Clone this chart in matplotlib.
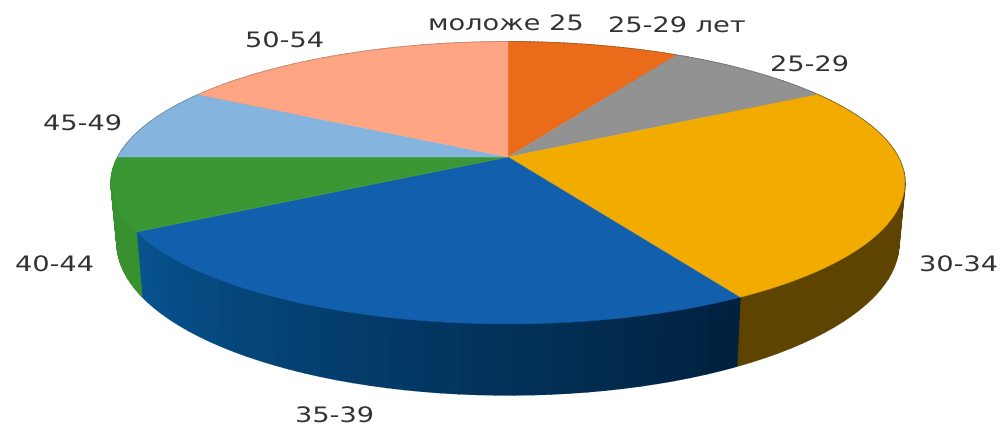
import numpy as np
import matplotlib as mpl
mpl.use('Agg')
import matplotlib.pyplot as plt
from matplotlib.colors import to_rgb
from matplotlib.patches import Polygon
from matplotlib.patheffects import AbstractPathEffect
from matplotlib.transforms import Affine2D

mpl.rcParams['font.family'] = ['DejaVu Sans']

# the picture has 8 labels but only 7 slices
labels = ['моложе 25', '25-29 лет', '25-29', '30-34', '35-39', '40-44', '45-49', '50-54']

# slices clockwise from 12 o'clock
slice_values = [1, 1, 3, 3, 1, 1, 2]
colors = ['#ea6c1a', '#929292', '#f2ab00', '#1260ad', '#3a9834', '#85b5de', '#ffa584']
side_start = ['#a04a10', '#666666', '#5f4300', '#00213f', '#37912f', '#5a7d99', '#b27359']
side_end = ['#a04a10', '#666666', '#5f4300', '#07538f', '#37912f', '#5a7d99', '#b27359']

label_x = [428, 608, 770, 919, 295, 15, 43, 245]
label_y = [31, 33, 72, 272, 423, 272, 131, 48]

cx, top_y, bot_y = 508, 158, 216
ax_r, b_top, b_bot, persp = 390, 136.2, 146.7, 0.184
bot_scale = 0.985


class Stretch(AbstractPathEffect):
    # text in the reference is wider than any installed font
    def __init__(self, sx):
        super().__init__()
        self.sx = sx

    def draw_path(self, renderer, gc, tpath, affine, rgbFace=None):
        renderer.draw_path(gc, tpath, Affine2D().scale(self.sx, 1) + affine, rgbFace)


def project(theta, bottom=False):
    u, v = np.sin(theta), np.cos(theta)
    d = 1 + persp * v
    if bottom:
        return cx + bot_scale * ax_r * u / d, bot_y - b_bot * v / d
    return cx + ax_r * u / d, top_y - b_top * v / d


fig = plt.figure(figsize=(10.04, 4.27), dpi=100)
ax = fig.add_axes([0, 0, 1, 1])
ax.set_xlim(0, 1004)
ax.set_ylim(427, 0)
ax.axis('off')

edges = np.cumsum([0] + slice_values) / sum(slice_values) * 2 * np.pi

# rim first, top covers whatever is behind it
for i in range(len(slice_values)):
    steps = np.linspace(edges[i], edges[i + 1], 41)
    c0, c1 = np.array(to_rgb(side_start[i])), np.array(to_rgb(side_end[i]))
    for j in range(len(steps) - 1):
        t = np.linspace(steps[j], steps[j + 1], 4)
        x1, y1 = project(t)
        x2, y2 = project(t, bottom=True)
        pts = np.column_stack([np.r_[x1, x2[::-1]], np.r_[y1, y2[::-1]]])
        col = c0 + (c1 - c0) * j / (len(steps) - 2)
        ax.add_patch(Polygon(pts, closed=True, fc=col, ec=col, lw=1.2))

for i in range(len(slice_values)):
    t = np.linspace(edges[i], edges[i + 1], 121)
    x, y = project(t)
    pts = np.column_stack([np.r_[cx, x], np.r_[top_y, y]])
    ax.add_patch(Polygon(pts, closed=True, fc=colors[i], ec=colors[i], lw=0.3))

for name, x, y in zip(labels, label_x, label_y):
    ax.text(x, y, name, fontsize=15.3, color='#333333', ha='left', va='baseline',
            path_effects=[Stretch(1.28)])

plt.savefig('out.png', dpi=100)
